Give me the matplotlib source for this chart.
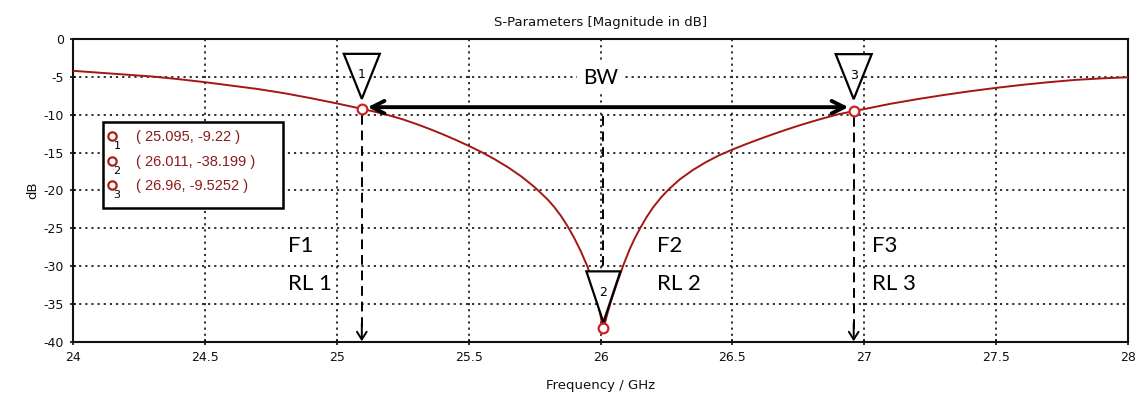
import matplotlib
matplotlib.use("Agg")
import matplotlib.pyplot as plt
import matplotlib.transforms as mtransforms
from matplotlib.patches import Polygon, Rectangle

# ---- data ----
freq = [24.0, 24.1, 24.2, 24.3, 24.4, 24.5, 24.6, 24.7, 24.8, 24.9, 25.0,
        25.095, 25.15, 25.2, 25.25, 25.3, 25.35, 25.4, 25.45, 25.5, 25.55,
        25.6, 25.65, 25.7, 25.75, 25.8, 25.825, 25.85, 25.875, 25.9, 25.925,
        25.95, 25.965, 25.98, 25.99, 26.0, 26.006, 26.011, 26.017, 26.025,
        26.04, 26.06, 26.085, 26.11, 26.13, 26.15, 26.175, 26.2, 26.23, 26.26,
        26.3, 26.35, 26.4, 26.45, 26.5, 26.55, 26.6, 26.65, 26.7, 26.75, 26.8,
        26.85, 26.9, 26.96, 27.0, 27.1, 27.2, 27.3, 27.4, 27.5, 27.6, 27.7,
        27.8, 27.9, 28.0]
s11_db = [-4.2, -4.45, -4.7, -4.95, -5.3, -5.7, -6.15, -6.6, -7.15, -7.8, -8.5,
          -9.22, -9.65, -10.1, -10.6, -11.2, -11.85, -12.55, -13.3, -14.1, -14.95,
          -15.9, -16.95, -18.15, -19.55, -21.2, -22.2, -23.35, -24.7, -26.25, -28.0,
          -30.0, -31.5, -33.3, -34.8, -36.5, -37.6, -38.199, -37.5, -36.4,
          -34.6, -32.5, -30.0, -27.8, -26.3, -25.0, -23.5, -22.2, -20.9, -19.8,
          -18.55, -17.3, -16.25, -15.35, -14.6, -13.9, -13.25, -12.62, -12.02,
          -11.45, -10.92, -10.42, -9.95, -9.5252, -9.25, -8.55, -7.95, -7.4, -6.9,
          -6.45, -6.05, -5.7, -5.4, -5.2, -5.05]

marker_ids = ["1", "2", "3"]
marker_freq = [25.095, 26.011, 26.96]
marker_db = [-9.22, -38.199, -9.5252]
marker_text = ["( 25.095, -9.22 )", "( 26.011, -38.199 )", "( 26.96, -9.5252 )"]

x_ticks = [24, 24.5, 25, 25.5, 26, 26.5, 27, 27.5, 28]
x_tick_labels = ["24", "24.5", "25", "25.5", "26", "26.5", "27", "27.5", "28"]
y_ticks = [0, -5, -10, -15, -20, -25, -30, -35, -40]
y_tick_labels = ["0", "-5", "-10", "-15", "-20", "-25", "-30", "-35", "-40"]

ann_labels = [("F1", "RL 1", 24.814), ("F2", "RL 2", 26.216), ("F3", "RL 3", 27.03)]

# ---- figure ----
W, H = 1142, 398
fig = plt.figure(figsize=(W / 100, H / 100), dpi=100)
ax = fig.add_axes([73 / W, 1 - 342 / H, (1128 - 73) / W, (342 - 39) / H])

curve_col = "#a51515"
ax.plot(freq, s11_db, color=curve_col, lw=1.4, zorder=3)

ax.set_xlim(24, 28)
ax.set_ylim(-40, 0)
ax.set_xticks(x_ticks)
ax.set_xticklabels(x_tick_labels)
ax.set_yticks(y_ticks)
ax.set_yticklabels(y_tick_labels)
ax.tick_params(direction="inout", length=5, width=1.2, labelsize=9,
               colors="#111111", pad=4)
ax.grid(True, color="#222222", linestyle=(0, (1.2, 2.2)), lw=1.3)
for s in ax.spines.values():
    s.set_linewidth(1.5)
    s.set_color("#111111")

ax.set_title("S-Parameters [Magnitude in dB]", fontsize=9.5, pad=9, color="#111111")
ax.set_xlabel("Frequency / GHz", fontsize=9.5, labelpad=11, color="#111111")
ax.set_ylabel("dB", fontsize=9.5, labelpad=3, color="#111111")

# marker circles
ax.plot(marker_freq, marker_db, linestyle="none", marker="o", ms=7,
        mfc="white", mec="#cc2222", mew=1.6, zorder=6)

# dashed vertical drops with open arrowheads for markers 1 and 3
for i in (0, 2):
    ax.plot([marker_freq[i], marker_freq[i]], [marker_db[i] - 0.8, -38.8],
            color="black", lw=1.4, linestyle=(0, (5, 3)), zorder=4)
    ax.annotate("", xy=(marker_freq[i], -39.9), xytext=(marker_freq[i], -37.5),
                arrowprops=dict(arrowstyle="->,head_length=0.55,head_width=0.35",
                                color="black", lw=1.4, shrinkA=0, shrinkB=0),
                zorder=4)
# dashed line down to marker 2 triangle
ax.plot([marker_freq[1], marker_freq[1]], [-10.2, -31.0],
        color="black", lw=1.4, linestyle=(0, (5, 3)), zorder=4)

# triangles with marker numbers
def tri(xd, yd, tip, top, half):
    tr = fig.dpi_scale_trans + mtransforms.ScaledTranslation(xd, yd, ax.transData)
    verts = [(0, tip / 100), (-half / 100, top / 100), (half / 100, top / 100)]
    p = Polygon(verts, closed=True, transform=tr, facecolor="white",
                edgecolor="black", lw=1.6, zorder=7, clip_on=False)
    ax.add_patch(p)

tri_geom = [(10, 55, 18), (6, 57, 17), (12, 57, 18)]
for mid, xf, yd, g in zip(marker_ids, marker_freq, marker_db, tri_geom):
    tri(xf, yd, *g)
    ax.annotate(mid, xy=(xf, yd), xytext=(0, g[1] - 21), textcoords="offset pixels",
                ha="center", va="center", fontsize=9, color="black", zorder=8)

# BW double arrow
ax.annotate("", xy=(25.117, -9.0), xytext=(26.94, -9.0),
            arrowprops=dict(arrowstyle="<->,head_length=0.9,head_width=0.45",
                            color="black", lw=2.8, shrinkA=0, shrinkB=0),
            zorder=5)
ax.text(26.0, -5.1, "BW", ha="center", va="center", fontsize=15,
        family="Lato", color="black", zorder=5,
        bbox=dict(boxstyle="square,pad=0.3", fc="white", ec="none"))

# F / RL labels
for f_lab, rl_lab, xf in ann_labels:
    ax.text(xf, -27.3, f_lab, ha="left", va="center", fontsize=16,
            family="Lato", color="black", zorder=5)
    ax.text(xf, -32.3, rl_lab, ha="left", va="center", fontsize=16,
            family="Lato", color="black", zorder=5)

# marker legend box
ax_w = 1128 - 73
ax_h = 342 - 39
def ax_frac(px, py):
    return (px - 73) / ax_w, 1 - (py - 39) / ax_h

bx0, by0 = ax_frac(103, 208)
bx1, by1 = ax_frac(283, 122)
ax.add_patch(Rectangle((bx0, by0), bx1 - bx0, by1 - by0, transform=ax.transAxes,
                       facecolor="white", edgecolor="black", lw=1.8, zorder=9))
row_y = [137, 162, 186]
for mid, txt, ry in zip(marker_ids, marker_text, row_y):
    cx, cy = ax_frac(112, ry - 1)
    ax.plot([cx], [cy], transform=ax.transAxes, marker="o", ms=6, mfc="white",
            mec="#b01c1c", mew=1.6, zorder=10, clip_on=False)
    nx, ny = ax_frac(117, ry + 9)
    ax.text(nx, ny, mid, transform=ax.transAxes, ha="center", va="center",
            fontsize=8, color="black", zorder=10)
    tx, ty = ax_frac(136, ry)
    ax.text(tx, ty, txt, transform=ax.transAxes, ha="left", va="center",
            fontsize=10.5, family="Liberation Sans", color="#8b1a1a", zorder=10)

fig.savefig("out.png", dpi=100)
